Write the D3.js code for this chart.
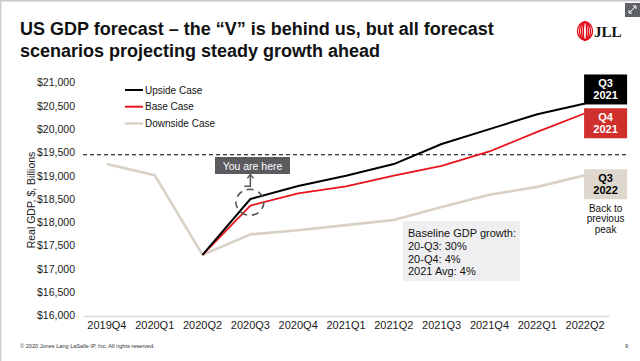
<!DOCTYPE html>
<html>
<head>
<meta charset="utf-8">
<script src="https://cdn.jsdelivr.net/npm/d3@7"></script>
<style>
  body { margin: 0; background: #fff; }
  svg { display: block; font-family: "Liberation Sans", Arial, sans-serif; }
</style>
</head>
<body>
<div id="chart"></div>
<script>
const quarters = ["2019Q4", "2020Q1", "2020Q2", "2020Q3", "2020Q4", "2021Q1", "2021Q2", "2021Q3", "2021Q4", "2022Q1", "2022Q2"];
const upside   = [null, null, 17300, 18500, 18780, 19000, 19250, 19680, 20000, 20320, 20550];
const base     = [null, null, 17300, 18360, 18620, 18770, 19000, 19210, 19520, 19940, 20340];
const downside = [19250, 19010, 17300, 17740, 17830, 17940, 18050, 18330, 18590, 18760, 19010];
const yTicks = [16000, 16500, 17000, 17500, 18000, 18500, 19000, 19500, 20000, 20500, 21000];
const peakLevel = 19450;
const seriesNames = ["Upside Case", "Base Case", "Downside Case"];
const seriesColors = ["#000000", "#e8141b", "#d9d1c6"];
const growthNotes = ["Baseline GDP growth:", "20-Q3: 30%", "20-Q4: 4%", "2021 Avg: 4%"];

const width = 640, height = 361;
const svg = d3.select("#chart").append("svg").attr("width", width).attr("height", height);

// frame bits from the slide viewer
svg.append("rect").attr("x", 0).attr("y", 0).attr("width", width).attr("height", 1.5).attr("fill", "#c8c8c8");
svg.append("rect").attr("x", 0).attr("y", 0).attr("width", 1.5).attr("height", height).attr("fill", "#d0d0d0");
svg.append("rect").attr("x", 625).attr("y", 3).attr("width", 15).attr("height", 14).attr("fill", "#5f6368");
svg.append("path").attr("d", "M629,13 L636,6 M629,13 l0,-3 M629,13 l3,0 M636,6 l-3,0 M636,6 l0,3")
  .attr("stroke", "#fff").attr("stroke-width", 1).attr("fill", "none");

// title
const title = svg.append("text").attr("x", 20).attr("font-size", 18).attr("font-weight", "bold").attr("fill", "#111");
title.append("tspan").attr("x", 20).attr("y", 35).text("US GDP forecast \u2013 the \u201cV\u201d is behind us, but all forecast");
title.append("tspan").attr("x", 20).attr("y", 57).text("scenarios projecting steady growth ahead");

// JLL logo
const logo = svg.append("g").attr("fill", "none").attr("stroke", "#e30613").attr("stroke-width", 1.3);
[7.5, 5.5, 3.5, 1.6].forEach(rx => {
  logo.append("ellipse").attr("cx", 585).attr("cy", 31).attr("rx", rx).attr("ry", 9);
});
svg.append("text").attr("x", 594).attr("y", 37).attr("font-family", "'Liberation Serif', 'DejaVu Serif', serif")
  .attr("font-weight", "bold").attr("font-size", 15).attr("fill", "#111").text("JLL");

// scales
const x = d3.scaleBand().domain(quarters).range([83, 609]).padding(0);
const cx = q => x(q) + x.bandwidth() / 2;
const y = d3.scaleLinear().domain([16000, 21000]).range([315.5, 82.5]);

// y axis (labels only)
const yAxis = d3.axisLeft(y).tickValues(yTicks).tickSize(0).tickPadding(0)
  .tickFormat(d => "$" + d3.format(",")(d));
svg.append("g").attr("transform", "translate(75,0)").call(yAxis)
  .call(g => g.select(".domain").remove())
  .call(g => g.selectAll("text").attr("font-size", 10.5).attr("fill", "#1a1a1a")
    .attr("font-family", "'Liberation Sans', Arial, sans-serif"));

svg.append("text").attr("transform", "translate(35,200) rotate(-90)").attr("text-anchor", "middle")
  .attr("font-size", 10.5).attr("fill", "#1a1a1a").text("Real GDP, $, Billions");

// x axis
const xAxis = d3.axisBottom(x).tickSize(0).tickPadding(0);
svg.append("g").attr("transform", "translate(0,316)").call(xAxis)
  .call(g => g.select(".domain").attr("stroke", "#d9d9d9").attr("stroke-width", 1.5))
  .call(g => g.selectAll("text").attr("y", 13).attr("dy", 0).attr("font-size", 11).attr("fill", "#1a1a1a")
    .attr("font-family", "'Liberation Sans', Arial, sans-serif"));

// previous peak dashed line
svg.append("line").attr("x1", 83).attr("x2", 626).attr("y1", y(peakLevel)).attr("y2", y(peakLevel))
  .attr("stroke", "#000").attr("stroke-width", 1.2).attr("stroke-dasharray", "4,3");

// series lines
const lineGen = d3.line().defined(d => d != null).x((d, i) => cx(quarters[i])).y(d => y(d));
const series = [
  { name: seriesNames[2], values: downside, color: seriesColors[2], w: 2.6 },
  { name: seriesNames[1], values: base, color: seriesColors[1], w: 1.8 },
  { name: seriesNames[0], values: upside, color: seriesColors[0], w: 2 }
];
svg.append("g").selectAll("path").data(series).join("path")
  .attr("d", d => lineGen(d.values)).attr("fill", "none")
  .attr("stroke", d => d.color).attr("stroke-width", d => d.w).attr("stroke-linejoin", "round");

// legend
const legend = svg.append("g").selectAll("g").data(seriesNames).join("g")
  .attr("transform", (d, i) => `translate(125,${90 + i * 16.7})`);
legend.append("line").attr("x1", 0).attr("x2", 18)
  .attr("stroke", (d, i) => seriesColors[i]).attr("stroke-width", (d, i) => i === 2 ? 2.4 : 2);
legend.append("text").attr("x", 20).attr("y", 3.5).attr("font-size", 10).attr("fill", "#111").text(d => d);

// "You are here" annotation
const hereX = cx("2020Q3");
const hereY = (y(upside[3]) + y(base[3])) / 2;
svg.append("ellipse").attr("cx", hereX - 0.5).attr("cy", hereY).attr("rx", 14).attr("ry", 13)
  .attr("fill", "none").attr("stroke", "#555").attr("stroke-width", 1.6).attr("stroke-dasharray", "7,5");
svg.append("path").attr("d", `M${hereX - 6},${hereY - 16} H${hereX} V${hereY - 27}`)
  .attr("fill", "none").attr("stroke", "#555").attr("stroke-width", 1.5);
svg.append("path").attr("d", `M${hereX - 3},${hereY - 24} L${hereX},${hereY - 28} L${hereX + 3},${hereY - 24}`)
  .attr("fill", "none").attr("stroke", "#555").attr("stroke-width", 1.3);
svg.append("rect").attr("x", 215).attr("y", 157).attr("width", 75).attr("height", 17).attr("fill", "#5b5b5f");
svg.append("text").attr("x", 252.5).attr("y", 169.5).attr("text-anchor", "middle").attr("font-size", 10.5)
  .attr("fill", "#fff").text("You are here");

// end-point boxes
const boxX = cx("2022Q2") - 1, boxW = 43, boxH = 30;
const endBoxes = [
  { top: y(upside[10]) - boxH + 1, fill: "#000", color: "#fff", lines: ["Q3", "2021"] },
  { top: y(base[10]) - 5, fill: "#d0302c", color: "#fff", lines: ["Q4", "2021"] },
  { top: y(downside[10]) - 6, fill: "#ddd7cd", color: "#000", lines: ["Q3", "2022"] }
];
const eb = svg.append("g").selectAll("g").data(endBoxes).join("g").attr("transform", d => `translate(${boxX},${d.top})`);
eb.append("rect").attr("width", boxW).attr("height", boxH).attr("fill", d => d.fill);
eb.append("text").attr("text-anchor", "middle").attr("font-size", 11).attr("font-weight", "bold")
  .attr("fill", d => d.color)
  .selectAll("tspan").data(d => d.lines).join("tspan")
  .attr("x", boxW / 2).attr("y", (d, i) => 12.5 + i * 12.5).text(d => d);

const peakNote = svg.append("text").attr("text-anchor", "middle").attr("font-size", 10).attr("fill", "#111");
["Back to", "previous", "peak"].forEach((t, i) => {
  peakNote.append("tspan").attr("x", boxX + boxW / 2).attr("y", 212 + i * 10.3).text(t);
});

// baseline growth box
svg.append("rect").attr("x", 403).attr("y", 221).attr("width", 117).attr("height", 60).attr("fill", "#efeff1");
const gt = svg.append("text").attr("font-size", 11).attr("fill", "#111");
growthNotes.forEach((t, i) => {
  gt.append("tspan").attr("x", 408).attr("y", 237 + i * 12.8).text(t);
});

// footer
svg.append("text").attr("x", 20).attr("y", 348).attr("font-size", 5.6).attr("fill", "#333")
  .text("\u00a9 2020 Jones Lang LaSalle IP, Inc. All rights reserved.");
svg.append("text").attr("x", 625).attr("y", 348).attr("font-size", 5.6).attr("fill", "#333").text("9");
</script>
</body>
</html>
